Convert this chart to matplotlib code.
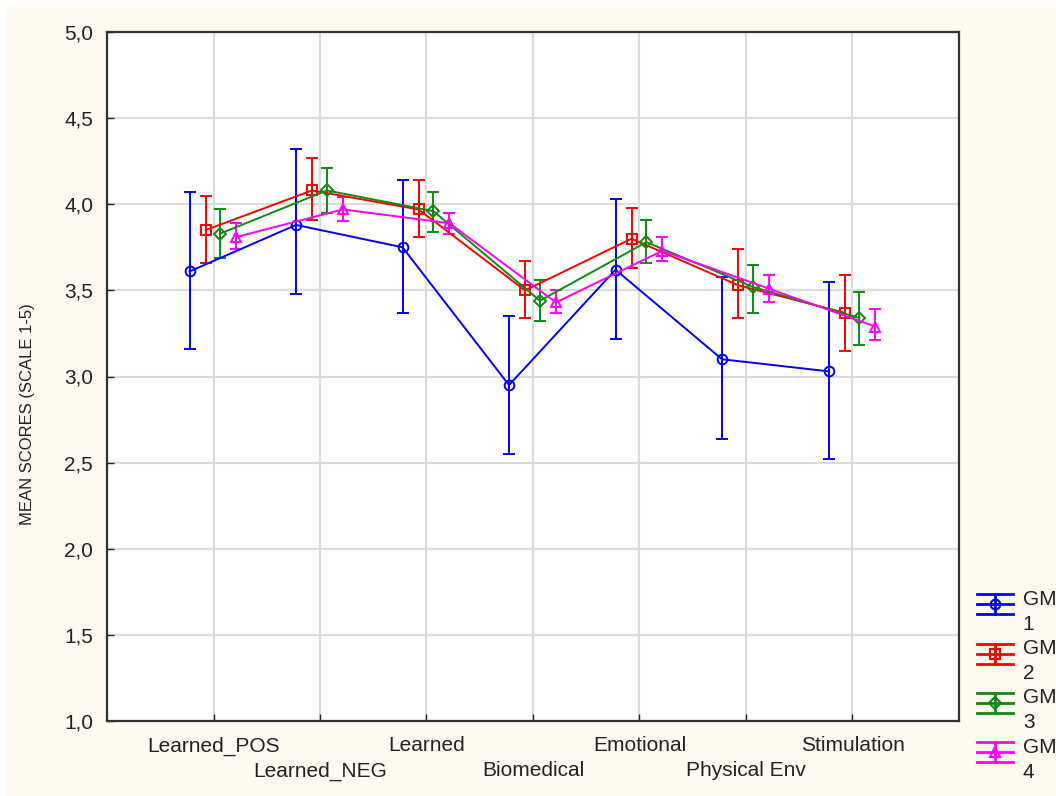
import matplotlib
matplotlib.use("Agg")
import matplotlib.pyplot as plt
from matplotlib.lines import Line2D
from matplotlib.patches import Rectangle
from matplotlib.legend_handler import HandlerBase

# categories and group data (mean, lower and upper bound of the interval)
categories = ["Learned_POS", "Learned_NEG", "Learned", "Biomedical",
              "Emotional", "Physical Env", "Stimulation"]

gm1_mean = [3.61, 3.88, 3.75, 2.95, 3.62, 3.10, 3.03]
gm1_low = [3.16, 3.48, 3.37, 2.55, 3.22, 2.64, 2.52]
gm1_high = [4.07, 4.32, 4.14, 3.35, 4.03, 3.58, 3.55]

gm2_mean = [3.85, 4.08, 3.97, 3.50, 3.80, 3.53, 3.37]
gm2_low = [3.66, 3.91, 3.81, 3.34, 3.63, 3.34, 3.15]
gm2_high = [4.05, 4.27, 4.14, 3.67, 3.98, 3.74, 3.59]

gm3_mean = [3.83, 4.08, 3.96, 3.44, 3.78, 3.52, 3.34]
gm3_low = [3.69, 3.95, 3.84, 3.32, 3.66, 3.37, 3.18]
gm3_high = [3.97, 4.21, 4.07, 3.56, 3.91, 3.65, 3.49]

gm4_mean = [3.81, 3.97, 3.89, 3.43, 3.73, 3.51, 3.29]
gm4_low = [3.74, 3.90, 3.83, 3.37, 3.67, 3.43, 3.21]
gm4_high = [3.89, 4.04, 3.95, 3.50, 3.81, 3.59, 3.39]

group_labels = ["GM\n1", "GM\n2", "GM\n3", "GM\n4"]
y_ticks = [1.0, 1.5, 2.0, 2.5, 3.0, 3.5, 4.0, 4.5, 5.0]

groups = [
    (gm1_mean, gm1_low, gm1_high),
    (gm2_mean, gm2_low, gm2_high),
    (gm3_mean, gm3_low, gm3_high),
    (gm4_mean, gm4_low, gm4_high),
]
colors = ["#0000ff", "#ff0000", "#108a10", "#ff00ff"]
markers = ["o", "s", "D", "^"]
msizes = [7, 7, 6, 6.5]
offsets = [-0.225, -0.075, 0.065, 0.215]

plt.rcParams["font.family"] = ["Liberation Sans", "DejaVu Sans"]


class ErrorbarHandle(HandlerBase):
    # legend glyph: middle line, caps as wide as the handle, vertical bar and marker
    def __init__(self, color, marker, ms):
        super().__init__()
        self.color = color
        self.marker = marker
        self.ms = ms

    def create_artists(self, legend, orig_handle, xdescent, ydescent,
                       width, height, fontsize, trans):
        yc = height / 2 - ydescent + 0.38 * fontsize
        h = 0.48 * fontsize
        x0, x1 = -xdescent, width - xdescent
        xm = (x0 + x1) / 2
        arts = []
        for yy in (yc - h, yc, yc + h):
            arts.append(Line2D([x0, x1], [yy, yy], color=self.color, lw=2))
        arts.append(Line2D([xm, xm], [yc - h, yc + h], color=self.color, lw=2))
        arts.append(Line2D([xm], [yc], marker=self.marker, ms=self.ms,
                           mfc="none", mec=self.color, mew=1.5, ls="none"))
        for a in arts:
            a.set_transform(trans)
        return arts


fig = plt.figure(figsize=(10.56, 7.96), dpi=100, facecolor="white")
fig.patches.append(Rectangle((7 / 1056, 0), 1, 1 - 5 / 796,
                             transform=fig.transFigure, facecolor="#fffaf0",
                             edgecolor="none", zorder=-10))
ax = fig.add_axes([107 / 1056, 75 / 796, 852 / 1056, 689 / 796])
ax.set_facecolor("white")

x = list(range(1, len(categories) + 1))
handles = []
for (mean, low, high), c, m, ms, off in zip(groups, colors, markers, msizes, offsets):
    xs = [xi + off for xi in x]
    err = [[mv - lo for mv, lo in zip(mean, low)], [hi - mv for mv, hi in zip(mean, high)]]
    ax.errorbar(xs, mean, yerr=err, color=c, lw=1.4, elinewidth=1.4,
                capsize=4, capthick=1.4, marker=m, ms=ms, mfc="none",
                mec=c, mew=1.4, zorder=3)
    handles.append(Line2D([], [], color=c))

ax.set_xlim(0, 8)
ax.set_ylim(1.0, 5.0)
ax.set_yticks(y_ticks)
ax.set_yticklabels([f"{v:.1f}".replace(".", ",") for v in y_ticks])
ax.set_xticks(x)
ax.set_xticklabels(categories)
ax.tick_params(axis="both", direction="in", length=5, width=1, labelsize=15,
               colors="#222222")
ax.tick_params(axis="y", pad=10)
ax.tick_params(axis="x", pad=11)
# staggered category labels: every second one sits one row lower
for i, t in enumerate(ax.xaxis.get_major_ticks()):
    if i % 2 == 1:
        t.set_pad(11 + 18)
ax.grid(True, color="#dcdcdc", lw=1.5)
ax.set_axisbelow(True)
for s in ax.spines.values():
    s.set_linewidth(1.6)
    s.set_color("#333333")

ax.set_ylabel("MEAN SCORES (SCALE 1-5)", fontsize=12, color="#222222")
ax.yaxis.set_label_coords(-0.085, 0.445)

hmap = {h: ErrorbarHandle(c, m, ms) for h, c, m, ms in zip(handles, colors, markers, msizes)}
leg = fig.legend(handles, group_labels, handler_map=hmap, loc="upper left",
                 bbox_to_anchor=(977 / 1056, 1 - 590 / 796), frameon=False,
                 fontsize=15, borderpad=0, borderaxespad=0, handlelength=1.75,
                 handletextpad=0.45, labelspacing=0.25, labelcolor="#222222")
for t in leg.get_texts():
    t.set_linespacing(1.4)

fig.savefig("out.png", dpi=100, facecolor=fig.get_facecolor())
